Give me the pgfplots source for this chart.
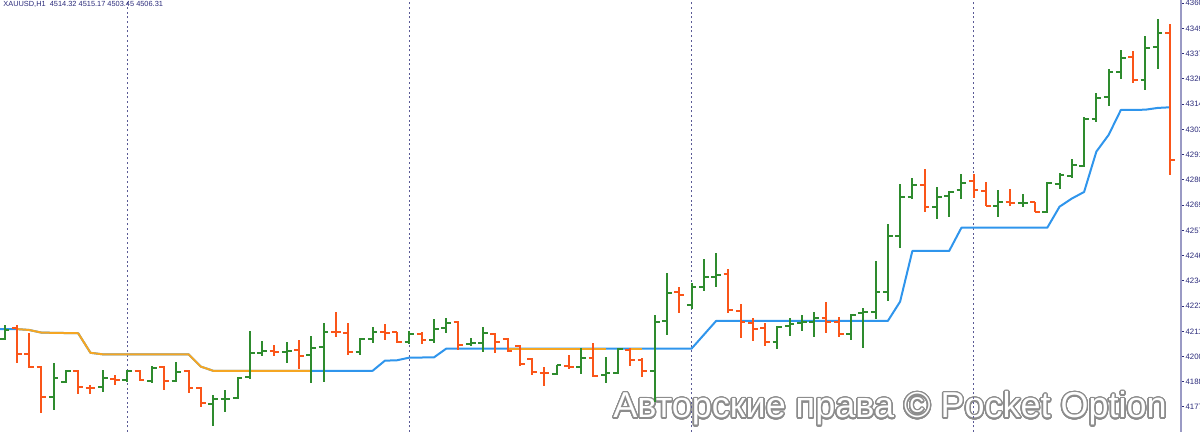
\documentclass[border=0pt]{standalone}
\usepackage{pgfplots}
\pgfplotsset{compat=1.18}
\usepackage{pgfplotstable}
\usepackage{fontspec}
\setmainfont{Liberation Sans}
\usepackage{contour}
\contourlength{0.7pt}
\contournumber{32}

\definecolor{bullc}{HTML}{2E8B2E}
\definecolor{bearc}{HTML}{FA5519}
\definecolor{trailblue}{HTML}{2F95EC}
\definecolor{trailorange}{HTML}{F5A623}
\definecolor{sepc}{HTML}{5A5A96}
\definecolor{labc}{HTML}{2A2A7A}
\definecolor{axisc}{HTML}{9A9AC4}

\pgfdeclareplotmark{ohlcopen}{\pgfpathmoveto{\pgfqpoint{-2.4pt}{0pt}}\pgfpathlineto{\pgfqpoint{0pt}{0pt}}\pgfusepathqstroke}
\pgfdeclareplotmark{ohlcclose}{\pgfpathmoveto{\pgfqpoint{0pt}{0pt}}\pgfpathlineto{\pgfqpoint{2.4pt}{0pt}}\pgfusepathqstroke}

\pgfplotstableread{
i o h l c
0 4206.9 4213.4 4206.5 4211.3
4 4180.7 4195.9 4174.6 4189.1
5 4187.5 4192.9 4187.1 4192.5
8 4185.0 4192.9 4183.0 4189.3
10 4188.3 4192.9 4187.5 4192.4
12 4188.0 4194.8 4186.8 4193.6
14 4188.0 4196.6 4187.5 4192.1
17 4177.4 4181.5 4167.5 4179.5
18 4179.6 4183.7 4173.6 4179.8
19 4180.2 4189.5 4180.0 4189.3
20 4189.5 4210.8 4188.6 4200.7
21 4200.7 4206.2 4199.2 4201.5
23 4200.9 4205.8 4196.2 4201.7
25 4199.6 4208.4 4187.1 4202.7
26 4203.2 4214.1 4187.5 4210.3
29 4200.9 4207.3 4199.7 4206.9
30 4206.9 4212.3 4205.0 4210.3
33 4205.5 4210.8 4204.6 4209.1
35 4206.5 4216.0 4205.0 4211.4
36 4211.9 4216.4 4209.6 4214.4
38 4204.7 4207.3 4203.8 4205.0
39 4205.0 4212.6 4201.1 4209.6
45 4191.0 4195.1 4190.6 4195.1
47 4194.1 4202.7 4191.0 4198.5
49 4190.6 4198.9 4186.8 4191.3
50 4191.3 4202.7 4191.0 4202.4
53 4192.5 4217.9 4178.3 4214.9
54 4215.3 4237.2 4208.8 4227.8
56 4222.5 4232.4 4220.5 4230.5
57 4230.5 4243.3 4229.0 4235.1
58 4235.4 4246.0 4230.8 4236.2
63 4205.8 4213.0 4202.3 4212.6
64 4212.9 4216.4 4208.4 4213.8
65 4214.1 4217.9 4210.6 4214.9
66 4214.6 4219.4 4208.0 4216.4
69 4209.3 4218.4 4206.5 4217.9
70 4219.0 4221.0 4202.7 4219.4
71 4219.4 4242.5 4216.1 4228.5
72 4228.5 4259.4 4224.4 4253.9
73 4253.9 4277.6 4248.3 4271.8
74 4271.8 4280.2 4270.7 4277.2
76 4267.0 4276.1 4261.5 4271.8
77 4272.2 4274.6 4262.5 4274.1
78 4274.9 4282.2 4270.7 4278.0
81 4267.6 4274.9 4262.7 4269.3
83 4268.8 4273.1 4267.0 4269.1
85 4265.0 4278.7 4264.7 4278.0
86 4277.6 4282.5 4275.2 4281.7
87 4281.4 4288.9 4280.2 4286.3
88 4285.8 4308.3 4285.5 4307.3
89 4307.3 4319.0 4306.0 4317.0
90 4317.4 4329.9 4313.2 4328.8
91 4328.8 4338.7 4325.5 4335.2
93 4325.0 4345.1 4320.5 4339.8
94 4340.2 4352.7 4329.9 4346.3
}\bull

\pgfplotstableread{
i o h l c
1 4212.0 4213.4 4195.9 4200.0
2 4200.0 4209.6 4193.6 4194.4
3 4194.4 4194.9 4173.4 4180.4
6 4192.5 4192.9 4181.9 4185.0
7 4184.7 4186.0 4181.8 4184.5
9 4188.9 4190.6 4186.0 4188.3
11 4192.5 4192.9 4187.8 4188.3
13 4194.1 4194.7 4183.7 4188.0
15 4192.4 4192.9 4182.5 4184.8
16 4184.5 4185.0 4175.9 4177.7
22 4201.5 4204.3 4199.2 4201.2
24 4202.0 4206.5 4193.2 4199.2
27 4210.3 4219.4 4208.0 4210.2
28 4209.9 4214.1 4199.7 4200.9
31 4210.3 4213.8 4206.5 4209.9
32 4210.0 4210.3 4205.0 4205.5
34 4209.1 4210.3 4204.7 4206.5
37 4214.9 4215.2 4202.0 4204.3
40 4209.3 4209.9 4200.7 4205.5
41 4206.9 4207.3 4201.2 4201.7
42 4203.9 4204.3 4194.7 4195.6
43 4197.7 4198.2 4190.6 4192.1
44 4191.6 4194.1 4185.6 4191.3
46 4194.7 4199.7 4193.2 4194.1
48 4198.2 4205.0 4189.5 4190.1
51 4202.0 4202.7 4194.7 4197.4
52 4197.4 4198.2 4189.5 4192.5
55 4228.5 4230.5 4219.0 4227.0
59 4236.5 4238.8 4218.7 4220.2
60 4219.9 4222.9 4207.3 4214.9
61 4214.4 4216.4 4206.1 4211.5
62 4211.9 4214.1 4203.9 4205.8
67 4216.4 4224.0 4209.6 4214.9
68 4214.9 4216.9 4207.8 4209.3
75 4277.2 4284.3 4264.7 4267.0
79 4279.1 4282.2 4271.1 4274.9
80 4274.6 4278.4 4267.6 4267.7
82 4269.6 4275.2 4267.7 4268.8
84 4269.3 4269.6 4264.7 4265.0
92 4335.4 4338.3 4323.8 4325.0
95 4346.3 4350.6 4281.7 4288.6
}\bear

\pgfplotstableread{
i v
-1 4211.5
0 4211.5
1 4211.5
2 4211.1
3 4209.9
6 4209.6
7 4200.7
8 4200.0
15 4200.0
16 4194.4
17 4192.5
25 4192.5
30 4192.5
31 4197.1
32 4197.3
33 4198.5
35 4198.6
36 4202.6
41 4202.6
49 4202.6
51 4202.6
52 4202.6
56 4202.6
57 4208.9
58 4215.2
72 4215.2
73 4224.0
74 4247.1
77 4247.1
78 4257.7
85 4257.7
86 4267.3
87 4271.0
88 4274.0
89 4292.4
90 4300.0
91 4311.4
92 4311.4
93 4311.5
94 4312.3
95 4312.6
}\trail

\begin{document}
\begin{tikzpicture}
% watermark (drawn first, under the chart)
\node[anchor=base west, inner sep=0pt, font=\fontsize{18}{20}\selectfont] at (306.5pt,7pt)
  {\textcolor{white}{\contour{gray!90}{Авторские права © Pocket Option}}};
\begin{axis}[
  at={(0,0)}, anchor=south west,
  scale only axis, width=590.5pt, height=216pt,
  xmin=-0.375, xmax=95.9, ymin=4164.6, ymax=4361.5,
  axis x line=none,
  axis y line*=right,
  y axis line style={axisc, line width=1pt, -},
  tick align=outside,
  major tick length=1.5pt,
  ytick style={labc, line width=0.5pt},
  ytick={4360,4348.5,4337,4325.5,4314,4302.5,4291,4279.5,4268,4256.5,4245,4233.5,4222,4210.5,4199,4187.5,4176},
  yticklabels={4360,4349,4337,4326,4314,4303,4291,4280,4269,4257,4246,4234,4223,4211,4200,4188,4177},
  yticklabel style={font=\fontsize{3.9}{4.2}\selectfont, text=labc, inner sep=0pt, xshift=0.6pt},
  clip=true,
]
\pgfplotsinvokeforeach{10,33,56,79}{
  \draw[sepc, line width=0.6pt, dash pattern=on 1pt off 1.35pt] (axis cs:#1,4164.6) -- (axis cs:#1,4361.5);
}
% trailing line
\addplot[trailblue, line width=1pt, line join=round] table[x=i,y=v] {\trail};
\addplot[trailorange, line width=1pt, line join=round, restrict x to domain=1:25] table[x=i,y=v] {\trail};
\addplot[trailorange, line width=1pt, line join=round, restrict x to domain=41:49] table[x=i,y=v] {\trail};
\addplot[trailorange, line width=1pt, line join=round, restrict x to domain=51:52] table[x=i,y=v] {\trail};
% bullish bars
\addplot[only marks, mark=ohlcopen, bullc, mark options={line width=1pt},
  error bars/.cd, y dir=both, y explicit, error mark=none,
  error bar style={line width=1pt, bullc}]
  table[x=i, y=o, y error plus expr=\thisrow{h}-\thisrow{o}, y error minus expr=\thisrow{o}-\thisrow{l}] {\bull};
\addplot[only marks, mark=ohlcclose, bullc, mark options={line width=1pt}] table[x=i, y=c] {\bull};
% bearish bars
\addplot[only marks, mark=ohlcopen, bearc, mark options={line width=1pt},
  error bars/.cd, y dir=both, y explicit, error mark=none,
  error bar style={line width=1pt, bearc}]
  table[x=i, y=o, y error plus expr=\thisrow{h}-\thisrow{o}, y error minus expr=\thisrow{o}-\thisrow{l}] {\bear};
\addplot[only marks, mark=ohlcclose, bearc, mark options={line width=1pt}] table[x=i, y=c] {\bear};
% header text
\node[anchor=north west, inner sep=0pt, font=\fontsize{3.7}{4}\selectfont, text=labc]
  at (rel axis cs:0,1) [xshift=1.5pt, yshift=-0.5pt] {XAUUSD,H1\ \ 4514.32 4515.17 4503.45 4506.31};
\end{axis}
\pgfresetboundingbox
\useasboundingbox (0,0) rectangle (600pt,216pt);
\end{tikzpicture}
\end{document}
